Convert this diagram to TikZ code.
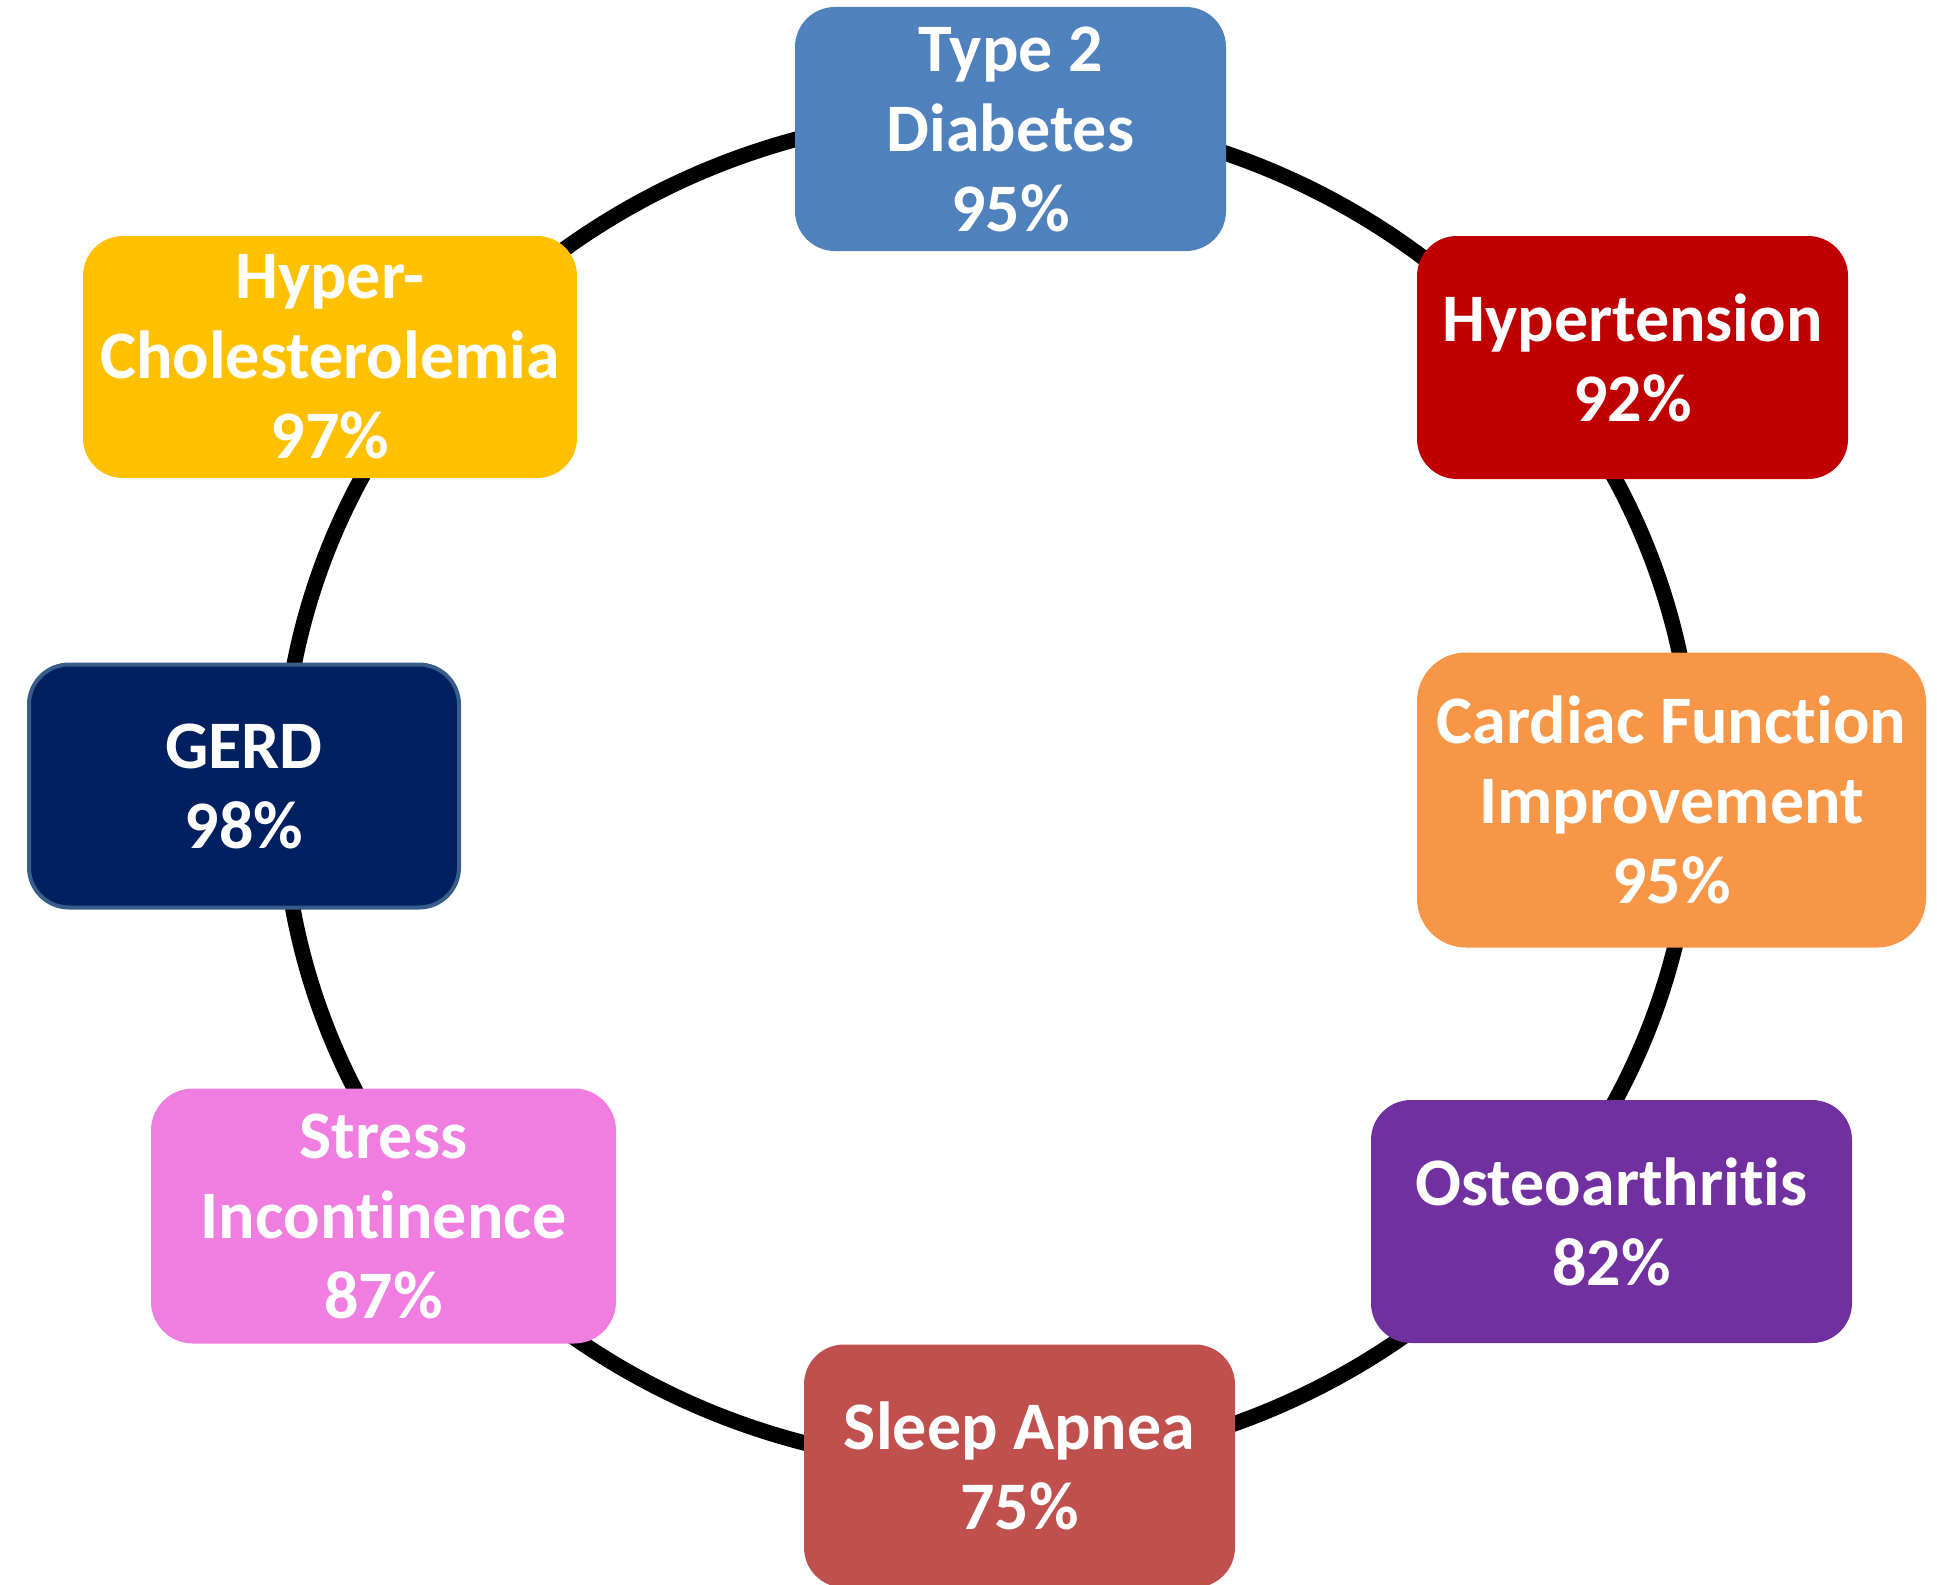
\documentclass[tikz,border=0pt]{standalone}
\usepackage{fontspec}
\setmainfont{Carlito}[Ligatures=CommonOff]
\usepackage{tikz}

\definecolor{diabetes}{HTML}{4F81BD}
\definecolor{hypertens}{HTML}{C00000}
\definecolor{cardiac}{HTML}{F79646}
\definecolor{osteo}{HTML}{7030A0}
\definecolor{apnea}{HTML}{C0504D}
\definecolor{stress}{HTML}{F07EE0}
\definecolor{gerd}{HTML}{002060}
\definecolor{gerdline}{HTML}{385D8A}
\definecolor{cholest}{HTML}{FFC000}

\begin{document}
\begin{tikzpicture}
  [x=1pt,y=-1pt,ring/.style={draw=black,line width=15.5pt},
  main node/.style={rectangle,draw=none,text=white,inner sep=0pt,align=center,
    font=\fontsize{68}{80}\selectfont\bfseries}]
  \useasboundingbox (0,0) rectangle (1937,1584);
  \coordinate (c) at (988,790);
  \draw[ring] (c) ellipse [x radius=706,y radius=676];

  \node[main node,fill=diabetes,minimum width=431pt,minimum height=244pt,rounded corners=40pt]
    (1) at (1010.5,129) {Type 2\\Diabetes\\95\%};
  \node[main node,fill=hypertens,minimum width=431pt,minimum height=243pt,rounded corners=40pt]
    (2) at (1632.5,357.5) {Hypertension\\92\%};
  \node[main node,fill=cardiac,minimum width=509pt,minimum height=295pt,rounded corners=49pt]
    (3) at (1671.5,800) {Cardiac Function\\Improvement\\95\%};
  \node[main node,fill=osteo,minimum width=481pt,minimum height=243pt,rounded corners=40pt]
    (4) at (1611.5,1221.5) {Osteoarthritis\\82\%};
  \node[main node,fill=apnea,minimum width=431pt,minimum height=243pt,rounded corners=40pt]
    (5) at (1019.5,1466) {Sleep Apnea\\75\%};
  \node[main node,fill=stress,minimum width=465pt,minimum height=255pt,rounded corners=42pt]
    (6) at (383.5,1216) {Stress\\Incontinence\\87\%};
  \node[main node,fill=gerd,draw=gerdline,line width=4pt,minimum width=430pt,minimum height=243pt,rounded corners=40pt]
    (7) at (244,786) {GERD\\98\%};
  \node[main node,fill=cholest,minimum width=494pt,minimum height=242pt,rounded corners=40pt]
    (8) at (330,357) {Hyper-\\Cholesterolemia\\97\%};
\end{tikzpicture}
\end{document}
